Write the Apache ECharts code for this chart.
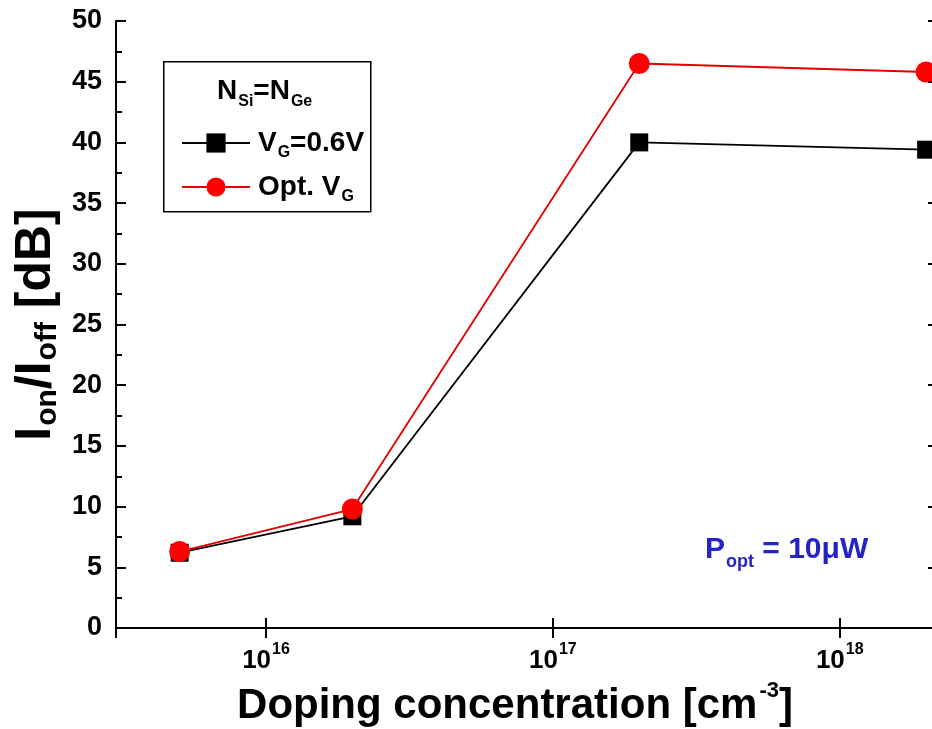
<!DOCTYPE html>
<html>
<head>
<meta charset="utf-8">
<script src="https://cdn.jsdelivr.net/npm/echarts@6/dist/echarts.min.js"></script>
<style>
  html, body { margin: 0; padding: 0; background: #fff; overflow: hidden; }
  #chart { width: 945px; height: 729px; }
</style>
</head>
<body>
<div id="chart"></div>
<script>
// doping concentration [cm^-3]
const dopingX    = [5e15, 2e16, 2e17, 2e18];
// Ion/Ioff [dB]
const ratioVg06  = [6.2, 9.2, 40.0, 39.4];
const ratioOptVg = [6.3, 9.8, 46.5, 45.8];
const seriesNames = ["VG=0.6V", "Opt. VG"];

const FONT = "'Liberation Sans', Arial, sans-serif";
const X_MIN = 3e15, X_MAX = 2.2e18;
const BLUE = "#2323c8";

const chart = echarts.init(document.getElementById("chart"), null, { renderer: "canvas" });

const bold = (size, extra) => Object.assign({ fontFamily: FONT, fontWeight: "bold", fontSize: size, color: "#000" }, extra || {});

function expLabel(v) {
  const e = Math.log10(v);
  if (Math.abs(e - Math.round(e)) > 1e-6) return "";
  return "{b|10}{s|" + Math.round(e) + "}";
}

const pairs = ys => dopingX.map((x, i) => [x, ys[i]]);

chart.setOption({
  animation: false,
  backgroundColor: "#fff",
  grid: { left: 116, right: 7, top: 21, bottom: 101, containLabel: false, outerBoundsMode: "none" },
  xAxis: [{
    type: "log", min: X_MIN, max: X_MAX, logBase: 10,
    axisLine: { lineStyle: { color: "#000", width: 2 } },
    axisTick: { inside: true, length: 10, lineStyle: { color: "#000", width: 2 } },
    splitLine: { show: false },
    axisLabel: {
      margin: 19, showMinLabel: false, showMaxLabel: false,
      formatter: expLabel,
      rich: {
        b: bold(26, { lineHeight: 28 }),
        s: bold(16, { lineHeight: 16, padding: [0, 0, 22, 1] })
      }
    },
    name: "{b|Doping concentration [cm}{s|-3}{b|]}",
    nameLocation: "middle", nameGap: 55, nameMoveOverlap: false,
    nameTextStyle: {
      padding: [0, 24, 0, 0],
      rich: {
        b: bold(42, { lineHeight: 46 }),
        s: bold(22, { lineHeight: 22, padding: [0, 0, 30, 2] })
      }
    }
  }, {
    type: "log", min: X_MIN, max: X_MAX, position: "top",
    axisLine: { lineStyle: { color: "#000", width: 2 } },
    axisTick: { inside: true, length: 10, lineStyle: { color: "#000", width: 2 } },
    axisLabel: { show: false }, splitLine: { show: false }
  }],
  yAxis: [{
    type: "value", min: 0, max: 50, interval: 5,
    axisLine: { show: true, lineStyle: { color: "#000", width: 2 } },
    axisTick: { show: true, inside: true, length: 10, lineStyle: { color: "#000", width: 2 } },
    minorTick: { show: true, splitNumber: 2, length: 6, lineStyle: { color: "#000", width: 2 } },
    splitLine: { show: false },
    axisLabel: Object.assign({ margin: 14 }, bold(27)),
    name: "{b|I}{s|on}{b|/I}{s|off}{b| [dB]}",
    nameLocation: "middle", nameRotate: 90, nameGap: 55, nameMoveOverlap: false,
    nameTextStyle: {
      rich: {
        b: bold(50, { lineHeight: 50 }),
        s: bold(30, { lineHeight: 30, padding: [24, 0, 0, 1] })
      }
    }
  }, {
    type: "value", min: 0, max: 50, interval: 5, position: "right",
    axisLine: { show: true, lineStyle: { color: "#000", width: 2 } },
    axisTick: { show: true, inside: true, length: 10, lineStyle: { color: "#000", width: 2 } },
    minorTick: { show: true, splitNumber: 2, length: 6, lineStyle: { color: "#000", width: 2 } },
    splitLine: { show: false },
    axisLabel: { show: false }
  }],
  legend: {
    orient: "vertical", left: 176, top: 120, itemGap: 8, padding: 5,
    itemWidth: 68, itemHeight: 24,
    data: seriesNames,
    formatter: n => n === "VG=0.6V" ? "{b|V}{s|G}{b|=0.6V}" : "{b|Opt. V}{s|G}",
    textStyle: {
      padding: [0, 0, 0, 3],
      rich: {
        b: bold(28, { lineHeight: 30 }),
        s: bold(16, { lineHeight: 16, padding: [20, 0, 0, 1] })
      }
    }
  },
  graphic: [{
    type: "rect", left: 163, top: 61, z: 0,
    shape: { width: 207, height: 150 },
    style: { fill: "#fff", stroke: "#000", lineWidth: 1.5 }
  }, {
    type: "text", left: 217, top: 72, z: 10,
    style: {
      text: "{b|N}{s|Si}{b|=N}{s|Ge}", fill: "#000",
      rich: {
        b: bold(28, { lineHeight: 30, fill: "#000" }),
        s: bold(16, { lineHeight: 16, fill: "#000", padding: [22, 0, 0, 1] })
      }
    }
  }, {
    type: "text", left: 705, top: 529, z: 10,
    style: {
      text: "{b|P}{s|opt}{b| = 10μW}", fill: BLUE,
      rich: {
        b: bold(30, { lineHeight: 32, fill: BLUE }),
        s: bold(18, { lineHeight: 18, fill: BLUE, padding: [24, 0, 0, 1] })
      }
    }
  }],
  series: [{
    name: seriesNames[0], type: "line", data: pairs(ratioVg06),
    symbol: "rect", symbolSize: 18, z: 3,
    itemStyle: { color: "#000" },
    lineStyle: { color: "#000", width: 1.8 }
  }, {
    name: seriesNames[1], type: "line", data: pairs(ratioOptVg),
    symbol: "circle", symbolSize: 21, z: 4,
    itemStyle: { color: "#ff0000" },
    lineStyle: { color: "#e00000", width: 1.8 }
  }]
});
</script>
</body>
</html>
